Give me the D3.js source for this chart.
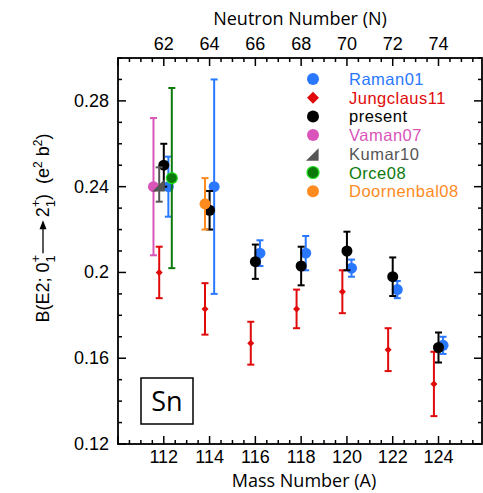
<!DOCTYPE html>
<html>
<head>
<meta charset="utf-8">
<script src="https://cdn.jsdelivr.net/npm/d3@7"></script>
<style>
  body { margin: 0; background: #fff; }
  svg { display: block; }
</style>
</head>
<body>
<div id="chart"></div>
<script>
// data: mass number, B(E2) value and error for each set
const raman01_A = [112, 114, 116, 118, 120, 122, 124];
const raman01_B = [0.240, 0.240, 0.209, 0.209, 0.202, 0.192, 0.166];
const raman01_err = [0.014, 0.050, 0.006, 0.008, 0.004, 0.004, 0.004];

const jungclaus11_A = [112, 114, 116, 118, 120, 122, 124];
const jungclaus11_B = [0.200, 0.183, 0.167, 0.183, 0.191, 0.164, 0.148];
const jungclaus11_err = [0.012, 0.012, 0.010, 0.009, 0.010, 0.010, 0.015];

const present_A = [112, 114, 116, 118, 120, 122, 124];
const present_B = [0.250, 0.229, 0.205, 0.203, 0.210, 0.198, 0.165];
const present_err = [0.010, 0.009, 0.008, 0.009, 0.009, 0.009, 0.007];

const vaman07_A = [112];
const vaman07_B = [0.240];
const vaman07_err = [0.032];

const kumar10_A = [112];
const kumar10_B = [0.241];
const kumar10_err = [0.008];

const orce08_A = [112];
const orce08_B = [0.244];
const orce08_err = [0.042];

const doornenbal08_A = [114];
const doornenbal08_B = [0.232];
const doornenbal08_err = [0.012];

const massTicks = [112, 114, 116, 118, 120, 122, 124];
const yTicks = [0.12, 0.16, 0.2, 0.24, 0.28];

const width = 483, height = 493;
const margin = { top: 58, right: 1, bottom: 49, left: 118 };

// series: style and small horizontal shift (in mass units) so bars don't overlap
const series = [
    { name: "Raman01", A: raman01_A, B: raman01_B, err: raman01_err, color: "#2a78ff", shape: "circle", shift: 0.2 },
    { name: "Jungclaus11", A: jungclaus11_A, B: jungclaus11_B, err: jungclaus11_err, color: "#e00a0a", shape: "diamond", shift: -0.2 },
    { name: "present", A: present_A, B: present_B, err: present_err, color: "#000000", shape: "circle", shift: 0 },
    { name: "Vaman07", A: vaman07_A, B: vaman07_B, err: vaman07_err, color: "#d955b9", shape: "circle", shift: -0.45 },
    { name: "Kumar10", A: kumar10_A, B: kumar10_B, err: kumar10_err, color: "#555555", shape: "triangle", shift: -0.2 },
    { name: "Orce08", A: orce08_A, B: orce08_B, err: orce08_err, color: "#0b7a0b", stroke: "#22dd22", shape: "circle", shift: 0.35 },
    { name: "Doornenbal08", A: doornenbal08_A, B: doornenbal08_B, err: doornenbal08_err, color: "#ff8a1e", shape: "circle", shift: -0.2 }
];

const svg = d3.select("#chart").append("svg")
    .attr("width", width)
    .attr("height", height);

const x = d3.scaleLinear().domain([110, 125.9]).range([margin.left, width - margin.right]);
const y = d3.scaleLinear().domain([0.12, 0.30]).range([height - margin.bottom, margin.top]);

const tickFont = "'Liberation Sans', Arial, sans-serif";
const titleFont = "'Open Sans', 'Noto Sans', sans-serif";

// frame
svg.append("rect")
    .attr("x", x(110)).attr("y", y(0.30))
    .attr("width", x(125.9) - x(110)).attr("height", y(0.12) - y(0.30))
    .attr("fill", "none").attr("stroke", "#000").attr("stroke-width", 1.8);

// ticks (all pointing inward)
const minorX = d3.range(110, 125.9, 0.5);
const minorY = d3.range(0.12, 0.3001, 0.01);
const isMajorX = v => Math.abs(v % 2) < 1e-6;
const isMajorY = v => yTicks.some(t => Math.abs(t - v) < 1e-6);

const ticks = svg.append("g").attr("stroke", "#000").attr("stroke-width", 1.5);
minorX.forEach(v => {
    const len = isMajorX(v) ? 8 : 4;
    ticks.append("line").attr("x1", x(v)).attr("x2", x(v)).attr("y1", y(0.12)).attr("y2", y(0.12) - len);
    ticks.append("line").attr("x1", x(v)).attr("x2", x(v)).attr("y1", y(0.30)).attr("y2", y(0.30) + len);
});
minorY.forEach(v => {
    const len = isMajorY(v) ? 8 : 4;
    ticks.append("line").attr("x1", x(110)).attr("x2", x(110) + len).attr("y1", y(v)).attr("y2", y(v));
    ticks.append("line").attr("x1", x(125.9)).attr("x2", x(125.9) - len).attr("y1", y(v)).attr("y2", y(v));
});

// tick labels
svg.append("g").selectAll("text").data(massTicks).join("text")
    .attr("x", d => x(d)).attr("y", y(0.12) + 19)
    .attr("text-anchor", "middle")
    .style("font-family", tickFont).style("font-size", "18px")
    .text(d => d);

svg.append("g").selectAll("text").data(massTicks).join("text")
    .attr("x", d => x(d)).attr("y", y(0.30) - 8)
    .attr("text-anchor", "middle")
    .style("font-family", tickFont).style("font-size", "18px")
    .text(d => d - 50);

svg.append("g").selectAll("text").data(yTicks).join("text")
    .attr("x", x(110) - 9).attr("y", d => y(d) + 6)
    .attr("text-anchor", "end")
    .style("font-family", tickFont).style("font-size", "18px")
    .text(d => String(+d.toFixed(2)));

// axis titles
svg.append("text")
    .attr("x", 300).attr("y", 25)
    .attr("text-anchor", "middle")
    .style("font-family", titleFont).style("font-size", "18px")
    .text("Neutron Number (N)");

svg.append("text")
    .attr("x", 304).attr("y", 487)
    .attr("text-anchor", "middle")
    .style("font-family", titleFont).style("font-size", "18px")
    .text("Mass Number (A)");

// y title, built piece by piece so the stacked sub/superscripts line up
const yTitle = svg.append("g");
const pieces = [
    { t: "B(E2; 0", size: 18, dy: 0 },
    { t: "+", size: 13, dy: -9, stack: true },
    { t: "1", size: 13, dy: 6 },
    { arrow: 36 },
    { t: "2", size: 18, dy: 0 },
    { t: "+", size: 13, dy: -9, stack: true },
    { t: "1", size: 13, dy: 6 },
    { t: ")  (e", size: 18, dy: 0 },
    { t: "2", size: 12, dy: -7 },
    { t: " b", size: 18, dy: 0 },
    { t: "2", size: 12, dy: -7 },
    { t: ")", size: 18, dy: 0 }
];
let cursor = 0;
pieces.forEach(p => {
    if (p.arrow) {
        yTitle.append("line").attr("x1", cursor + 2).attr("x2", cursor + p.arrow - 6)
            .attr("y1", -6).attr("y2", -6).attr("stroke", "#000").attr("stroke-width", 1.3);
        yTitle.append("path")
            .attr("d", `M${cursor + p.arrow - 1},-6 L${cursor + p.arrow - 10},-9.5 L${cursor + p.arrow - 10},-2.5 Z`)
            .attr("fill", "#000");
        cursor += p.arrow + 2;
        return;
    }
    const el = yTitle.append("text")
        .attr("x", cursor).attr("y", p.dy)
        .style("font-family", tickFont).style("font-size", p.size + "px")
        .attr("xml:space", "preserve")
        .text(p.t);
    if (!p.stack) cursor += el.node().getComputedTextLength();
});
yTitle.attr("transform", `translate(49,${228 + cursor / 2}) rotate(-90)`);

// "Sn" label box
svg.append("rect")
    .attr("x", 141).attr("y", 378).attr("width", 52).attr("height", 46)
    .attr("fill", "none").attr("stroke", "#000").attr("stroke-width", 1.5);
svg.append("text")
    .attr("x", 167).attr("y", 411)
    .attr("text-anchor", "middle")
    .style("font-family", titleFont).style("font-size", "27px")
    .text("Sn");

// markers
function drawMarker(g, shape, cx, cy, color, stroke, s) {
    if (shape === "circle") {
        g.append("circle").attr("cx", cx).attr("cy", cy).attr("r", s)
            .attr("fill", color).attr("stroke", stroke || color).attr("stroke-width", stroke ? 1.2 : 0);
    } else if (shape === "diamond") {
        g.append("path")
            .attr("d", `M${cx},${cy - s} L${cx + s},${cy} L${cx},${cy + s} L${cx - s},${cy} Z`)
            .attr("fill", color);
    } else if (shape === "triangle") {
        g.append("path")
            .attr("d", `M${cx - s},${cy + s} L${cx + s * 0.8},${cy + s} L${cx + s * 0.8},${cy - s * 0.8} Z`)
            .attr("fill", color);
    }
}

const plot = svg.append("g");
series.forEach(s => {
    const pts = s.A.map((a, i) => ({ a: a, b: s.B[i], e: s.err[i] }));
    const g = plot.append("g");
    pts.forEach(p => {
        const cx = x(p.a + s.shift);
        g.append("line").attr("x1", cx).attr("x2", cx)
            .attr("y1", y(p.b - p.e)).attr("y2", y(p.b + p.e))
            .attr("stroke", s.color).attr("stroke-width", 2);
        [p.b - p.e, p.b + p.e].forEach(v => {
            g.append("line").attr("x1", cx - 3.5).attr("x2", cx + 3.5)
                .attr("y1", y(v)).attr("y2", y(v))
                .attr("stroke", s.color).attr("stroke-width", 2);
        });
        const size = s.shape === "diamond" ? 3.5 : (s.shape === "triangle" ? 7 : 5.5);
        drawMarker(g, s.shape, cx, y(p.b), s.color, s.stroke, size);
    });
});

// legend
const legend = svg.append("g");
series.forEach((s, i) => {
    const ly = 79 + i * 18.7;
    const size = s.shape === "diamond" ? 6 : (s.shape === "triangle" ? 7 : 6);
    drawMarker(legend, s.shape, 313, ly, s.color, s.stroke, size);
    legend.append("text")
        .attr("x", 349).attr("y", ly + 6)
        .style("font-family", tickFont).style("font-size", "16.5px")
        .style("letter-spacing", "0.5px")
        .attr("fill", s.color)
        .text(s.name);
});
</script>
</body>
</html>
